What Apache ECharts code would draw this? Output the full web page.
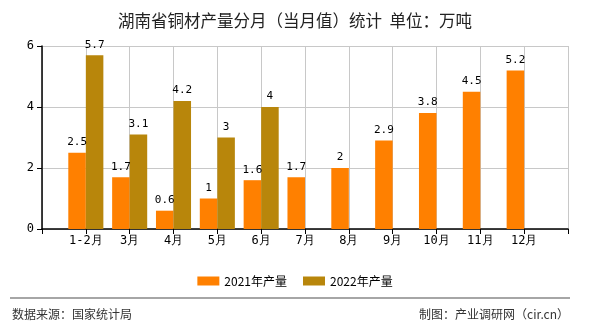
<!DOCTYPE html>
<html><head><meta charset="utf-8">
<script src="https://cdn.jsdelivr.net/npm/echarts@6/dist/echarts.min.js"></script>
<style>html,body{margin:0;padding:0;background:#fff}#c{width:590px;height:330px}</style>
</head><body><div id="c"></div>
<script>
const categories = ['1-2月','3月','4月','5月','6月','7月','8月','9月','10月','11月','12月'];
const output2021 = [2.5,1.7,0.6,1,1.6,1.7,2,2.9,3.8,4.5,5.2];
const output2022 = [5.7,3.1,4.2,3,4,null,null,null,null,null,null];
const seriesNames = ['2021年产量','2022年产量'];
const yTicks = [0,2,4,6];

const axisData = [''].concat(categories, ['']);
const pad = a => [null].concat(a, [null]);
const cjk = '"Noto Sans CJK SC", "Noto Sans", sans-serif';
const mono = '"DejaVu Sans Mono", "Liberation Mono", monospace';

const chart = echarts.init(document.getElementById('c'), null, {renderer:'canvas'});
chart.setOption({
  animation:false,
  backgroundColor:'#fff',
  title:{text:'湖南省铜材产量分月（当月值）统计  单位：万吨', left:'center', top:7,
    textStyle:{fontSize:16.5, fontWeight:'normal', color:'#222', fontFamily:cjk}},
  grid:{left:42, right:22, top:46, bottom:101, containLabel:false},
  legend:{top:270, left:'center', itemWidth:22, itemHeight:9, itemGap:16, icon:'rect',
    textStyle:{fontSize:12, color:'#000', fontFamily:cjk}, data:seriesNames},
  xAxis:{type:'category', data:axisData, boundaryGap:false,
      axisLine:{lineStyle:{color:'#000', width:1.5}},
      axisTick:{show:true, interval:0, length:5, lineStyle:{color:'#000'}},
      axisLabel:{interval:0, color:'#000', fontSize:12, fontFamily:mono, margin:6},
      splitLine:{show:true, interval:0, lineStyle:{color:'#c8c8c8', width:1}}},
  yAxis:{type:'value', min:yTicks[0], max:yTicks[yTicks.length-1], interval:2,
    axisLine:{show:true, lineStyle:{color:'#000', width:1.5}},
    axisTick:{show:true, length:5, lineStyle:{color:'#000'}},
    axisLabel:{color:'#000', fontSize:12, fontFamily:mono, margin:8},
    splitLine:{show:true, lineStyle:{color:'#c8c8c8', width:1}}},
  series:[
    {name:seriesNames[0], type:'bar', data:pad(output2021), barGap:'0%', barCategoryGap:'20%',
     itemStyle:{color:'#ff8000'},
     label:{show:true, position:'top', distance:5, color:'#000', fontSize:11, fontFamily:mono}},
    {name:seriesNames[1], type:'bar', data:pad(output2022), barGap:'0%', barCategoryGap:'20%',
     itemStyle:{color:'#b8860b'},
     label:{show:true, position:'top', distance:5, color:'#000', fontSize:11, fontFamily:mono}}
  ],
  graphic:[
    {type:'line', shape:{x1:10, y1:298, x2:570, y2:298}, style:{stroke:'#888', lineWidth:1.5}},
    {type:'text', left:12, top:308, style:{text:'数据来源：国家统计局', fill:'#333', font:'12px '+cjk}},
    {type:'text', right:21, top:308, style:{text:'制图：产业调研网（cir.cn）', fill:'#333', font:'12px '+cjk}}
  ]
});
</script></body></html>
